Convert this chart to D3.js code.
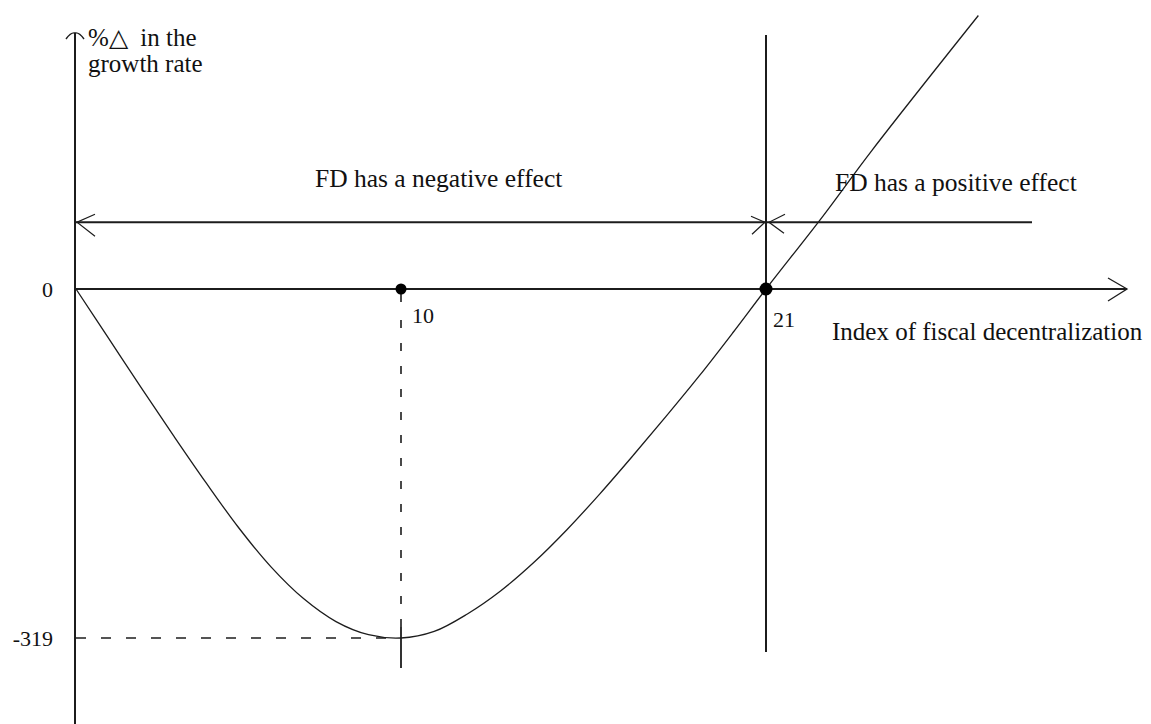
<!DOCTYPE html>
<html>
<head>
<meta charset="utf-8">
<script src="https://cdn.jsdelivr.net/npm/d3@7"></script>
<style>
  html, body { margin: 0; padding: 0; background: #fff; }
  svg { display: block; }
  text { font-family: "Liberation Serif", "Times New Roman", serif; fill: #111; }
</style>
</head>
<body>
<svg id="chart" width="1151" height="724"></svg>
<script>
// ---- Data ----
const fdIndex      = [0, 1, 2, 3, 4, 5, 6, 7, 8, 9, 10, 11, 12, 13, 14, 15, 16, 17, 18, 19, 20, 21, 22.7, 24.2, 27.4];
const growthChange = [0, -45, -90, -134, -177, -218, -254, -283, -304, -316, -319, -313, -297, -276, -250, -220, -187, -152, -116, -79, -40, 0, 66, 127, 250];
const xTickValues  = [10, 21];
const xTickLabels  = ["10", "21"];
const yTickValues  = [0, -319];
const yTickLabels  = ["0", "-319"];
const minimumPoint = [10, -319];
const thresholdFD  = 21;
const bandLevel    = 61;
const regionLabels = ["FD has a negative effect", "FD has a positive effect"];
const yAxisTitle   = ["%\u25B3  in the", "growth rate"];
const xAxisTitle   = "Index of fiscal decentralization";

// ---- Layout ----
const W = 1151, H = 724;
const L = { axisX: 75, axisTop: 33, axisBottom: 724, xAxisEnd: 1127, bandEnd: 1032, vTop: 35, vBottom: 652 };

const svg = d3.select("#chart");
const x = d3.scaleLinear().domain([0, 10, 21]).range([76, 401, 766]);
const y = d3.scaleLinear().domain([-319, 0]).range([638, 289]);

const ink = "#1c1c1c";
const g = svg.append("g");

// Y axis
g.append("line").attr("x1", L.axisX).attr("x2", L.axisX)
  .attr("y1", L.axisTop).attr("y2", L.axisBottom)
  .attr("stroke", ink).attr("stroke-width", 2);
g.append("path")
  .attr("d", `M${L.axisX - 9},${L.axisTop + 6} Q${L.axisX - 4},${L.axisTop - 1} ${L.axisX},${L.axisTop} Q${L.axisX + 4},${L.axisTop - 1} ${L.axisX + 9},${L.axisTop + 6}`)
  .attr("fill", "none").attr("stroke", ink).attr("stroke-width", 1.4);

// X axis
const y0 = y(0);
g.append("line").attr("x1", L.axisX).attr("x2", L.xAxisEnd)
  .attr("y1", y0).attr("y2", y0)
  .attr("stroke", ink).attr("stroke-width", 2);
g.append("path")
  .attr("d", `M${L.xAxisEnd - 19},${y0 - 11} L${L.xAxisEnd},${y0} L${L.xAxisEnd - 19},${y0 + 12}`)
  .attr("fill", "none").attr("stroke", ink).attr("stroke-width", 1.3);

// Threshold vertical line
const xt = x(thresholdFD);
g.append("line").attr("x1", xt).attr("x2", xt)
  .attr("y1", L.vTop).attr("y2", L.vBottom)
  .attr("stroke", ink).attr("stroke-width", 2);

// Region band line with arrowheads
const yb = y(bandLevel);
g.append("line").attr("x1", x(0)).attr("x2", L.bandEnd)
  .attr("y1", yb).attr("y2", yb)
  .attr("stroke", ink).attr("stroke-width", 2);
const arrowheads = [
  `M${x(0) + 19},${yb - 8} L${x(0) + 1},${yb} L${x(0) + 19},${yb + 14}`,
  `M${xt - 15},${yb - 6} L${xt - 1},${yb} L${xt - 14},${yb + 12}`,
  `M${xt + 19},${yb - 8} L${xt + 3},${yb} L${xt + 18},${yb + 11}`
];
g.selectAll("path.ah").data(arrowheads).join("path").attr("class", "ah")
  .attr("d", d => d).attr("fill", "none").attr("stroke", ink).attr("stroke-width", 1.2);

// Dashed guides to the minimum
const xm = x(minimumPoint[0]), ym = y(minimumPoint[1]);
g.append("line").attr("x1", x(0)).attr("x2", xm).attr("y1", ym).attr("y2", ym)
  .attr("stroke", ink).attr("stroke-width", 1.6).attr("stroke-dasharray", "10,15");
g.append("line").attr("x1", xm).attr("x2", xm).attr("y1", y0 + 31).attr("y2", ym)
  .attr("stroke", ink).attr("stroke-width", 1.6).attr("stroke-dasharray", "8,15");
g.append("line").attr("x1", xm).attr("x2", xm).attr("y1", y0).attr("y2", y0 + 13)
  .attr("stroke", ink).attr("stroke-width", 1.6);
g.append("line").attr("x1", xm).attr("x2", xm).attr("y1", ym - 11).attr("y2", ym + 30)
  .attr("stroke", ink).attr("stroke-width", 1.8);

// Curve
const pts = fdIndex.map((d, i) => [d, growthChange[i]]);
const line = d3.line().x(d => x(d[0])).y(d => y(d[1])).curve(d3.curveCatmullRom.alpha(0.5));
g.append("path").datum(pts).attr("d", line)
  .attr("fill", "none").attr("stroke", ink).attr("stroke-width", 1.3);

// Points on the axis
g.selectAll("circle.pt").data(xTickValues).join("circle").attr("class", "pt")
  .attr("cx", d => x(d)).attr("cy", y0).attr("r", (d, i) => i === 0 ? 5.5 : 6.5)
  .attr("fill", "#000");

// Tick labels
g.selectAll("text.yt").data(yTickValues).join("text").attr("class", "yt")
  .attr("x", L.axisX - 22).attr("y", d => y(d) + 8)
  .attr("text-anchor", "end").attr("font-size", 22)
  .text((d, i) => yTickLabels[i]);
g.selectAll("text.xt").data(xTickValues).join("text").attr("class", "xt")
  .attr("x", (d, i) => x(d) + (i === 0 ? 11 : 7))
  .attr("y", (d, i) => y0 + (i === 0 ? 34 : 38))
  .attr("font-size", 22)
  .text((d, i) => xTickLabels[i]);

// Axis titles
g.selectAll("text.yat").data(yAxisTitle).join("text").attr("class", "yat")
  .attr("x", L.axisX + 13).attr("y", (d, i) => 46 + i * 26)
  .attr("font-size", 25).attr("xml:space", "preserve")
  .text(d => d);
g.append("text").attr("x", xt + 66).attr("y", y0 + 51)
  .attr("font-size", 25).text(xAxisTitle);

// Region labels
g.selectAll("text.rl").data(regionLabels).join("text").attr("class", "rl")
  .attr("x", (d, i) => i === 0 ? x(0) + 239 : xt + 69)
  .attr("y", (d, i) => yb - (i === 0 ? 35 : 31))
  .attr("font-size", 25.5)
  .text(d => d);
</script>
</body>
</html>
